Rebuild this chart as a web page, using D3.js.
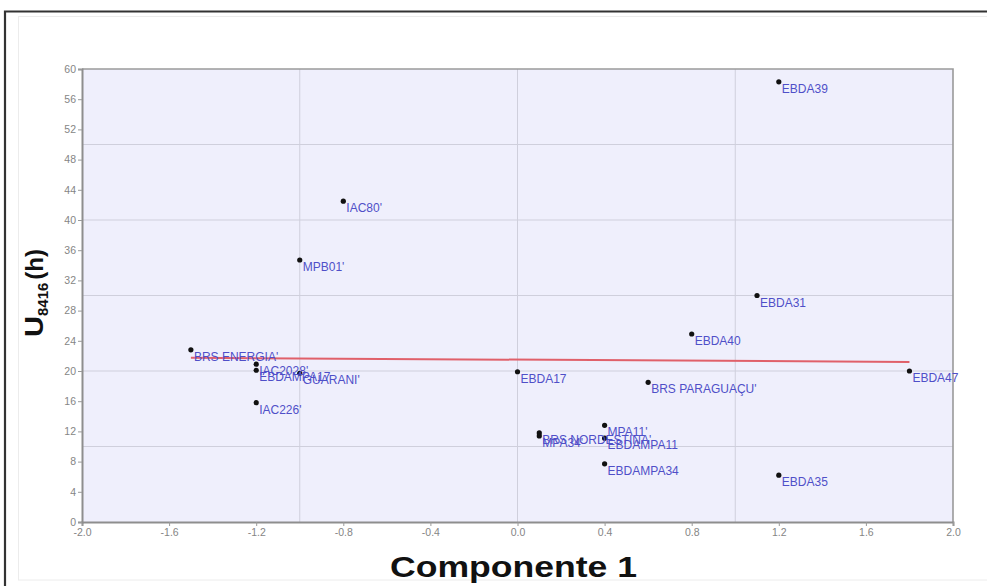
<!DOCTYPE html>
<html>
<head>
<meta charset="utf-8">
<script src="https://cdn.jsdelivr.net/npm/d3@7"></script>
<style>
  html, body { margin: 0; padding: 0; background: #fff; }
  svg { display: block; }
</style>
</head>
<body>
<svg id="chart" width="987" height="586"></svg>
<script>
// ---- data ----
const labels = ["EBDA39", "IAC80'", "MPB01'", "BRS ENERGIA'", "IAC2028'", "EBDAMPA17", "GUARANI'",
  "IAC226'", "EBDA17", "BRS PARAGUAÇU'", "EBDA40", "EBDA31", "EBDA47", "EBDA35",
  "EBDAMPA34", "MPA11'", "EBDAMPA11", "BRS NORDESTINA'", "MPA34'"];
const comp1 = [1.2, -0.8, -1.0, -1.5, -1.2, -1.2, -1.0, -1.2, 0.0, 0.6, 0.8, 1.1, 1.8, 1.2,
  0.4, 0.4, 0.4, 0.1, 0.1];
const u8416 = [58.3, 42.5, 34.7, 22.8, 20.9, 20.1, 19.7, 15.8, 19.9, 18.5, 24.9, 30.0, 20.0, 6.2,
  7.7, 12.8, 11.1, 11.8, 11.4];
const trendX = [-1.5, 1.8];
const trendY = [21.75, 21.2];
const xTicks = [-2.0, -1.6, -1.2, -0.8, -0.4, 0.0, 0.4, 0.8, 1.2, 1.6, 2.0];
const yTicks = [0, 4, 8, 12, 16, 20, 24, 28, 32, 36, 40, 44, 48, 52, 56, 60];
const xGrid = [-1, 0, 1];
const yGrid = [10, 20, 30, 40, 50];

// ---- layout ----
const svg = d3.select("#chart");
const L = 82, R = 953, T = 69, B = 522;
const x = d3.scaleLinear().domain([-2, 2]).range([L, R]);
const y = d3.scaleLinear().domain([0, 60]).range([B, T]);

// outer frame
svg.append("rect").attr("x", 18.5).attr("y", 16.5).attr("width", 1000).attr("height", 563.5)
  .attr("fill", "none").attr("stroke", "#ececec").attr("stroke-width", 1);
svg.append("path").attr("d", "M5,600 V11.5 H1000")
  .attr("fill", "none").attr("stroke", "#333").attr("stroke-width", 2.2);

// plot background
svg.append("rect").attr("x", L).attr("y", T).attr("width", R - L).attr("height", B - T)
  .attr("fill", "#efeffc");

// grid
svg.append("g").selectAll("line").data(xGrid).join("line")
  .attr("x1", d => x(d)).attr("x2", d => x(d)).attr("y1", T).attr("y2", B)
  .attr("stroke", "#cfcfdc").attr("stroke-width", 1);
svg.append("g").selectAll("line").data(yGrid).join("line")
  .attr("x1", L).attr("x2", R).attr("y1", d => y(d)).attr("y2", d => y(d))
  .attr("stroke", "#cfcfdc").attr("stroke-width", 1);

// top & right border of plot
svg.append("path").attr("d", `M${L},${T} H${R} V${B}`)
  .attr("fill", "none").attr("stroke", "#9a9a9a").attr("stroke-width", 1.6);

const fmt = d => d3.format(".1f")(d).replace("\u2212", "-");

// axes
const xAxis = svg.append("g").attr("transform", `translate(0,${B})`)
  .call(d3.axisBottom(x).tickValues(xTicks).tickFormat(fmt).tickSize(4).tickPadding(3));
const yAxis = svg.append("g").attr("transform", `translate(${L},0)`)
  .call(d3.axisLeft(y).tickValues(yTicks).tickFormat(d3.format("d")).tickSize(4).tickPadding(2));
[xAxis, yAxis].forEach(a => {
  a.select(".domain").attr("stroke", "#8e8e8e").attr("stroke-width", 2);
  a.selectAll(".tick line").attr("stroke", "#9a9a9a");
  a.selectAll(".tick text").attr("fill", "#858585")
    .style("font-family", "Arial, 'Liberation Sans', sans-serif").style("font-size", "10.5px");
});

// trend line
svg.append("line")
  .attr("x1", x(trendX[0])).attr("y1", y(trendY[0]))
  .attr("x2", x(trendX[1])).attr("y2", y(trendY[1]))
  .attr("stroke", "#e0606a").attr("stroke-width", 2);

// points
const pts = labels.map((l, i) => ({ l, cx: comp1[i], cy: u8416[i] }));
svg.append("g").selectAll("circle").data(pts).join("circle")
  .attr("cx", d => x(d.cx)).attr("cy", d => y(d.cy)).attr("r", 2.6).attr("fill", "#111");

svg.append("g").selectAll("text").data(pts).join("text")
  .attr("x", d => x(d.cx) + 3).attr("y", d => y(d.cy) + 11)
  .attr("fill", "#4f4fc8")
  .style("font-family", "Arial, 'Liberation Sans', sans-serif").style("font-size", "12px")
  .text(d => d.l);

// axis titles
svg.append("text").attr("x", 390).attr("y", 577)
  .attr("textLength", 247).attr("lengthAdjust", "spacingAndGlyphs")
  .attr("fill", "#111")
  .style("font-family", "Arial, 'Liberation Sans', sans-serif").style("font-size", "29px").style("font-weight", "bold")
  .text("Componente 1");

const yt = svg.append("text")
  .attr("transform", "translate(43,337) rotate(-90)")
  .attr("fill", "#111")
  .style("font-family", "Arial, 'Liberation Sans', sans-serif").style("font-weight", "bold");
yt.append("tspan").style("font-size", "26px").attr("textLength", 21).attr("lengthAdjust", "spacingAndGlyphs").text("U");
yt.append("tspan").style("font-size", "15px").attr("dy", 5).text("8416");
yt.append("tspan").style("font-size", "24px").attr("dy", -5).attr("dx", 3).text("(h)");
</script>
</body>
</html>
